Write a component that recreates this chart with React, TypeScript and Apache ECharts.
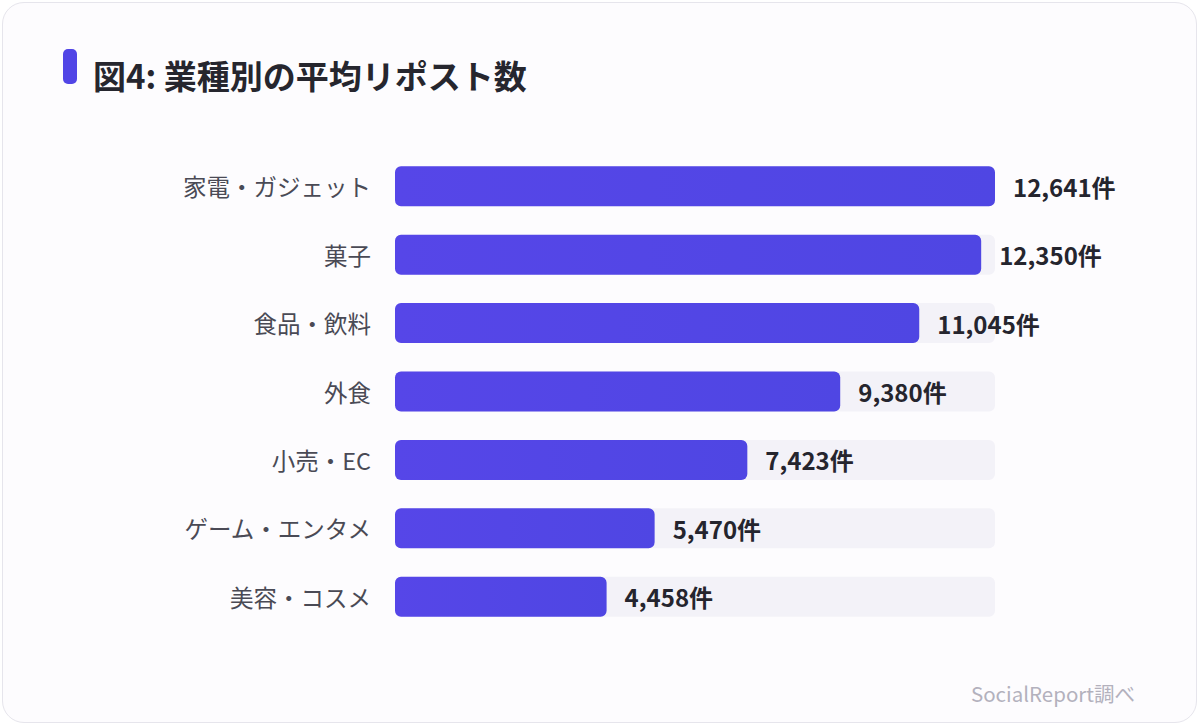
import React, { useEffect, useRef } from "react";
import * as echarts from "echarts";

const categories = ["家電・ガジェット", "菓子", "食品・飲料", "外食", "小売・EC", "ゲーム・エンタメ", "美容・コスメ"];
const avgReposts = [12641, 12350, 11045, 9380, 7423, 5470, 4458];
const titleText = "図4: 業種別の平均リポスト数";
const sourceText = "SocialReport調べ";

const FONT = "'Noto Sans CJK JP', 'Noto Sans', sans-serif";

export default function App() {
  const ref = useRef<HTMLDivElement>(null);

  useEffect(() => {
    if (!ref.current) return;
    const chart = echarts.init(ref.current, null, { renderer: "svg" });
    const maxVal = Math.max(...avgReposts);

    chart.setOption({
      animation: false,
      textStyle: { fontFamily: FONT },
      grid: { left: 395, right: 205, top: 152, bottom: 95, containLabel: false },
      xAxis: { type: "value", min: 0, max: maxVal, show: false },
      yAxis: {
        type: "category",
        data: categories,
        inverse: true,
        axisLine: { show: false },
        axisTick: { show: false },
        splitLine: { show: false },
        axisLabel: { fontSize: 23.5, color: "#4a4a55", margin: 24, fontFamily: FONT },
      },
      series: [
        {
          type: "bar",
          data: avgReposts,
          barWidth: 40,
          showBackground: true,
          backgroundStyle: { color: "#f3f2f8", borderRadius: 6 },
          itemStyle: {
            borderRadius: 6,
            color: new echarts.graphic.LinearGradient(0, 0, 1, 0, [
              { offset: 0, color: "#5646e8" },
              { offset: 1, color: "#4f46e3" },
            ]),
          },
          label: {
            show: true,
            position: "right",
            distance: 18,
            fontSize: 24,
            fontWeight: "bold",
            color: "#25252e",
            fontFamily: FONT,
            formatter: (p: any) => Number(p.value).toLocaleString("en-US") + "件",
          },
        },
      ],
      graphic: [
        {
          type: "rect",
          shape: { x: 63, y: 49, width: 14, height: 35, r: 5 },
          style: { fill: "#5145e6" },
        },
        {
          type: "text",
          x: 93,
          y: 75,
          style: {
            text: titleText,
            fontSize: 33,
            fontWeight: "bold",
            fill: "#26262e",
            fontFamily: FONT,
            textVerticalAlign: "middle",
          },
        },
        {
          type: "text",
          right: 65,
          top: 683,
          style: {
            text: sourceText,
            fontSize: 20.5,
            fill: "#b3b1bd",
            fontFamily: FONT,
          },
        },
      ],
    });

    return () => chart.dispose();
  }, []);

  return (
    <div
      style={{
        position: "fixed",
        left: 0,
        top: 0,
        width: 1200,
        height: 726,
        background: "#ffffff",
      }}
    >
      <div
        style={{
          position: "absolute",
          left: 2,
          top: 2,
          width: 1193,
          height: 719,
          border: "1px solid #e6e5ec",
          borderRadius: 22,
          background: "#fdfcfe",
        }}
      />
      <div ref={ref} style={{ position: "absolute", left: 0, top: 0, width: 1200, height: 726 }} />
    </div>
  );
}
